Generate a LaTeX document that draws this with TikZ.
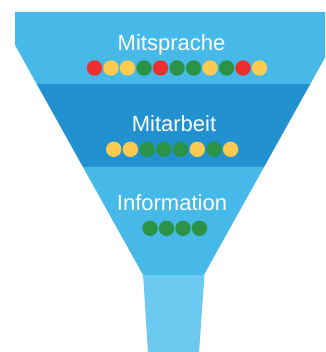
\documentclass[tikz,border=0pt]{standalone}
\usepackage{fontspec}
\setmainfont{Liberation Sans}
\definecolor{bandlight}{HTML}{46B9E8}
\definecolor{banddark}{HTML}{2291D0}
\definecolor{spout}{HTML}{6CCAF0}
\definecolor{dotr}{HTML}{EC3030}
\definecolor{doty}{HTML}{FDCB50}
\definecolor{dotg}{HTML}{2B9346}
\begin{document}
\begin{tikzpicture}[x=1pt,y=-1pt,
  dot/.style={circle,inner sep=0pt,minimum size=15.4pt},
  bandlabel/.style={text=white,font=\fontsize{22}{26}\selectfont,anchor=base,inner sep=0pt}]
\useasboundingbox (0,0) rectangle (325,352);
\begin{scope}
  \clip (0,0) rectangle (325,352);
  % funnel bands, top to bottom
  \fill[bandlight] (15,12) -- (332,12) -- (332,45) -- (310.3,84) -- (36.7,84) -- (15,45) -- cycle;
  \fill[banddark] (36.7,84) -- (310.3,84) -- (264.05,167) -- (82.95,167) -- cycle;
  \fill[bandlight] (82.95,167) -- (264.05,167) -- (203.9,275) -- (143.1,275) -- cycle;
  % spout
  \fill[spout] (143.1,275) -- (204.5,275) -- (199,353) -- (148,353) -- cycle;
\end{scope}
% labels
\node[bandlabel] (mitsprache) at (171.5,51) {Mitsprache};
\node[bandlabel] (mitarbeit) at (174,131.5) {Mitarbeit};
\node[bandlabel] (information) at (172,210) {Information};
% rating dots
\foreach \c [count=\i from 0] in {r,y,y,g,r,g,g,y,g,r,y}
  \node[dot,fill=dot\c] (ms\i) at ({94.5+16.5*\i},68) {};
\foreach \c [count=\i from 0] in {y,y,g,g,g,y,g,y}
  \node[dot,fill=dot\c] (ma\i) at ({113.7+16.7*\i},149.3) {};
\foreach \c [count=\i from 0] in {g,g,g,g}
  \node[dot,fill=dot\c] (in\i) at ({150+16.5*\i},228.3) {};
\end{tikzpicture}
\end{document}
